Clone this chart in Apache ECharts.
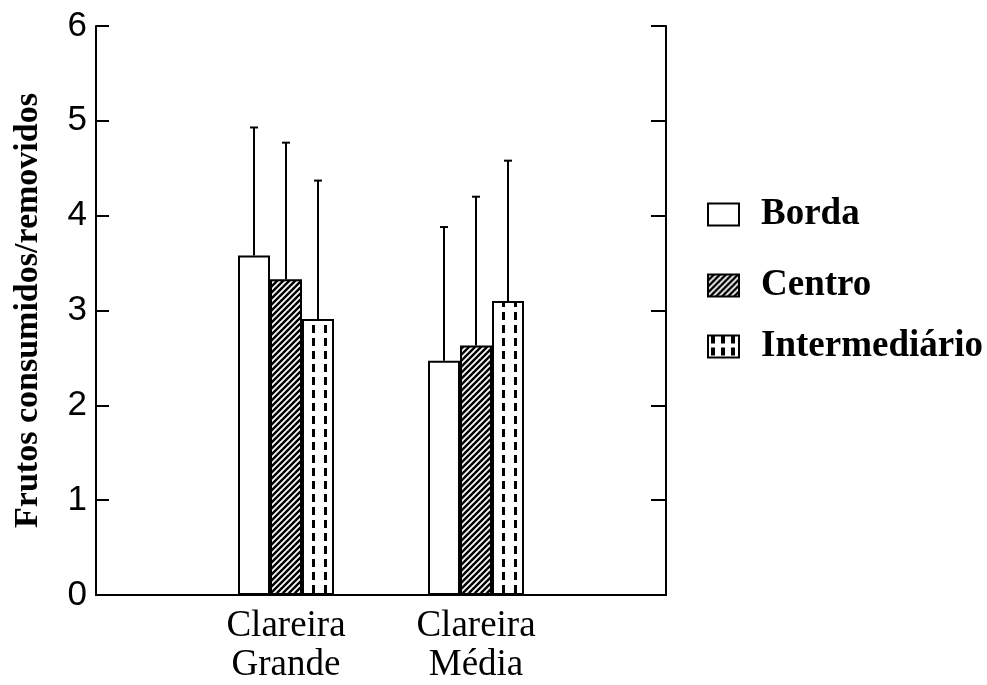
<!DOCTYPE html>
<html>
<head>
<meta charset="utf-8">
<script src="https://cdn.jsdelivr.net/npm/echarts@6/dist/echarts.min.js"></script>
<style>
html,body{margin:0;padding:0;background:#fff;}
#chart{width:987px;height:685px;}
</style>
</head>
<body>
<div id="chart"></div>
<script>
const CATEGORIES = ['Clareira\nGrande', 'Clareira\nMédia'];
const SERIES_NAMES = ['Borda', 'Centro', 'Intermediário'];
const BORDA = [3.58, 2.47];
const CENTRO = [3.33, 2.63];
const INTERMEDIARIO = [2.91, 3.10];
const BORDA_UPPER = [4.93, 3.88];
const CENTRO_UPPER = [4.77, 4.20];
const INTERMEDIARIO_UPPER = [4.37, 4.58];
const Y_MIN = 0, Y_MAX = 6, Y_STEP = 1;
const Y_TITLE = 'Frutos consumidos/removidos';

const BAR_W = 32;
const CAP_HALF = 4;
const LEGEND_TOPS = [196, 267, 328];

function hatchPattern() {
  const c = document.createElement('canvas');
  c.width = 6; c.height = 6;
  const g = c.getContext('2d');
  g.fillStyle = '#fff'; g.fillRect(0, 0, 6, 6);
  g.strokeStyle = '#000'; g.lineWidth = 2.5;
  for (const k of [-6, 0, 6]) {
    g.beginPath(); g.moveTo(k - 1, 7); g.lineTo(k + 7, -1); g.stroke();
  }
  return { image: c, repeat: 'repeat' };
}
function dashPattern() {
  const c = document.createElement('canvas');
  c.width = 190; c.height = 13;
  const g = c.getContext('2d');
  g.fillStyle = '#fff'; g.fillRect(0, 0, 190, 13);
  g.fillStyle = '#000';
  g.fillRect(122, 0, 3, 8);
  g.fillRect(134, 0, 3, 8);
  return { image: c, repeat: 'repeat' };
}
function smallDashPattern() {
  const c = document.createElement('canvas');
  c.width = 10; c.height = 12;
  const g = c.getContext('2d');
  g.fillStyle = '#fff'; g.fillRect(0, 0, 10, 12);
  g.fillStyle = '#000';
  g.fillRect(3, 0, 4, 8);
  return { image: c, repeat: 'repeat' };
}

const catData = [''].concat(CATEGORIES, ['']);
const pad = arr => [null].concat(arr, [null]);
const fills = ['#fff', hatchPattern(), dashPattern()];
const legendFills = ['#fff', hatchPattern(), smallDashPattern()];
const means = [BORDA, CENTRO, INTERMEDIARIO];
const uppers = [BORDA_UPPER, CENTRO_UPPER, INTERMEDIARIO_UPPER];

const errData = [];
for (let s = 0; s < 3; s++) {
  for (let i = 0; i < CATEGORIES.length; i++) {
    errData.push([i + 1, uppers[s][i], s, means[s][i]]);
  }
}

const barSeries = SERIES_NAMES.map((name, s) => ({
  name: name,
  type: 'bar',
  barWidth: BAR_W,
  barGap: '0%',
  data: pad(means[s]),
  itemStyle: { color: fills[s], borderColor: '#000', borderWidth: 2 },
  emphasis: { disabled: true },
  z: 2
}));

const legends = SERIES_NAMES.map((name, s) => ({
  orient: 'vertical',
  left: 707,
  top: LEGEND_TOPS[s],
  padding: 0,
  itemWidth: 31,
  itemHeight: 22,
  icon: 'rect',
  selectedMode: false,
  textStyle: { fontFamily: 'Liberation Serif', fontWeight: 'bold', fontSize: 37, color: '#000', padding: [0, 0, 0, 17] },
  data: [{ name: name, itemStyle: { color: legendFills[s], borderColor: '#000', borderWidth: 2 } }]
}));

const chart = echarts.init(document.getElementById('chart'), null, { renderer: 'canvas' });
chart.setOption({
  animation: false,
  backgroundColor: '#fff',
  grid: { left: 96, right: 321, top: 26, bottom: 89, show: false },
  legend: legends,
  xAxis: [{
    type: 'category',
    data: catData,
    boundaryGap: false,
    axisLine: { show: true, lineStyle: { color: '#000', width: 2 } },
    axisTick: { show: false },
    splitLine: { show: false },
    axisLabel: { interval: 0, color: '#000', fontFamily: 'Liberation Serif', fontSize: 37, lineHeight: 39, margin: 12 }
  }, {
    type: 'category',
    data: catData,
    boundaryGap: false,
    position: 'top',
    axisLine: { show: true, lineStyle: { color: '#000', width: 2 } },
    axisTick: { show: false },
    axisLabel: { show: false },
    splitLine: { show: false }
  }],
  yAxis: [{
    type: 'value',
    min: Y_MIN, max: Y_MAX, interval: Y_STEP,
    name: Y_TITLE,
    nameLocation: 'middle',
    nameGap: 51,
    nameTextStyle: { fontFamily: 'Liberation Serif', fontWeight: 'bold', fontSize: 34, color: '#000' },
    axisLine: { show: true, lineStyle: { color: '#000', width: 2 } },
    axisTick: { show: true, inside: true, length: 13, lineStyle: { color: '#000', width: 2 } },
    splitLine: { show: false },
    axisLabel: { color: '#000', fontFamily: 'Liberation Sans', fontSize: 35, margin: 9 }
  }, {
    type: 'value',
    min: Y_MIN, max: Y_MAX, interval: Y_STEP,
    position: 'right',
    axisLine: { show: true, lineStyle: { color: '#000', width: 2 } },
    axisTick: { show: true, inside: true, length: 15, lineStyle: { color: '#000', width: 2 } },
    splitLine: { show: false },
    axisLabel: { show: false }
  }],
  series: barSeries.concat([{
    type: 'custom',
    name: 'errors',
    data: errData,
    encode: { x: 0, y: 1 },
    z: 3,
    silent: true,
    renderItem: function (params, api) {
      const cat = api.value(0), up = api.value(1), gi = api.value(2), mean = api.value(3);
      const top = api.coord([cat, up]);
      const base = api.coord([cat, mean]);
      const x = Math.round(top[0] + (gi - 1) * BAR_W);
      const st = { stroke: '#000', lineWidth: 2 };
      return {
        type: 'group',
        children: [
          { type: 'line', shape: { x1: x, y1: base[1], x2: x, y2: top[1] }, style: st },
          { type: 'line', shape: { x1: x - CAP_HALF, y1: top[1], x2: x + CAP_HALF, y2: top[1] }, style: st }
        ]
      };
    }
  }])
});
</script>
</body>
</html>
